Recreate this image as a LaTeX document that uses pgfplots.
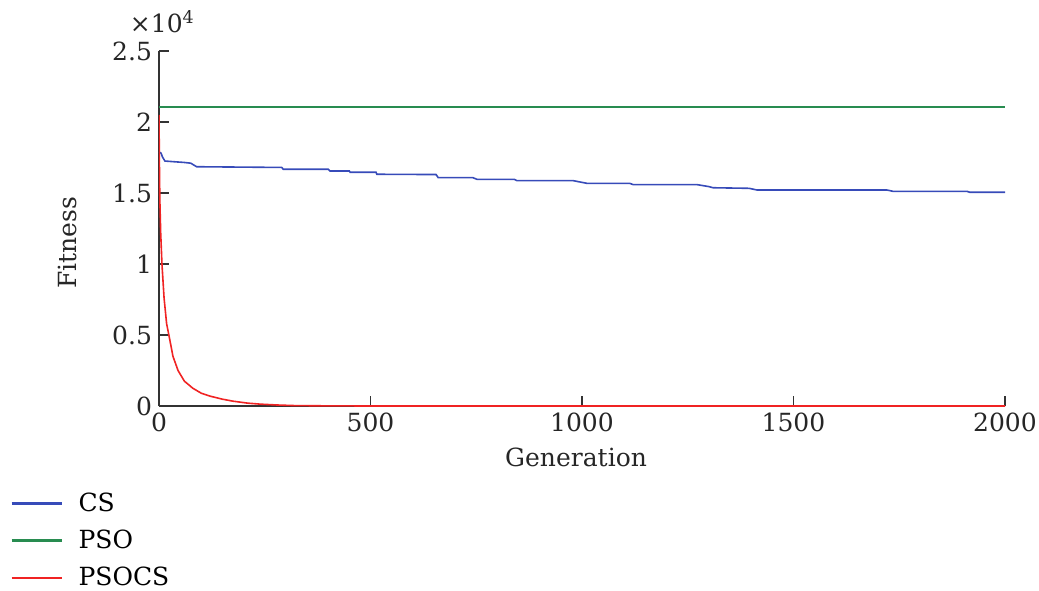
\documentclass[border=0pt]{standalone}
\usepackage{fontspec}
\setmainfont{DejaVu Serif}
\usepackage{pgfplots}
\pgfplotsset{compat=1.18}
\definecolor{csblue}{RGB}{55,75,185}
\definecolor{psogreen}{RGB}{40,140,80}
\definecolor{psored}{RGB}{240,35,35}
\begin{document}
\begin{tikzpicture}
\useasboundingbox (-79.5pt,-92pt) rectangle (440pt,203pt);
\begin{axis}[
  scale only axis,
  width=423pt, height=177.5pt,
  xmin=0, xmax=2000, ymin=0, ymax=25000,
  axis x line*=bottom, axis y line*=left,
  axis line style={line width=0.8pt, black!80},
  tick style={line width=0.7pt, black!80},
  major tick length=5pt,
  tick align=inside,
  xtick={0,500,1000,1500,2000},
  ytick={0,5000,10000,15000,20000,25000},
  /pgf/number format/1000 sep={},
  scaled y ticks=base 10:-4,
  ytick scale label code/.code={×10\textsuperscript{4}},
  every y tick scale label/.style={at={(yticklabel cs:1)},anchor=south west, xshift=12pt, yshift=9pt, inner sep=0pt},
  /pgf/number format/assume math mode=true,
  ticklabel style={font=\fontsize{12.5}{14}\selectfont, text=black!85},
  label style={font=\fontsize{12.5}{14}\selectfont, text=black!85},
  xlabel={Generation}, ylabel={Fitness},
  xlabel style={at={(axis description cs:0.493,-0.144)}, anchor=center},
  ylabel style={at={(axis description cs:-0.108,0.46)}, anchor=center},
  legend style={at={(axis description cs:-0.176,-0.232)}, anchor=north west, draw=none, fill=none,
    font=\fontsize{12.5}{14}\selectfont, row sep=3.75pt, inner sep=0pt},
  legend cell align=left,
  legend image code/.code={\draw[#1, line width=1.1pt] (0pt,0pt) -- (25pt,0pt); \path[draw=none,fill=none] (0pt,0pt) rectangle (31.5pt,0pt);},
]
\addplot[csblue, line width=0.8pt] coordinates {
(0,17900) (5,17800) (8,17550) (14,17250) (60,17150) (75,17100) (89,16850)
(290,16800) (294,16670) (400,16670) (404,16550) (450,16550) (452,16460)
(513,16460) (515,16320) (655,16300) (660,16080) (742,16080) (752,15960)
(840,15960) (846,15870) (979,15870) (1012,15680) (1113,15680) (1121,15590)
(1272,15590) (1300,15450) (1310,15370) (1395,15330) (1414,15210) (1721,15210)
(1735,15120) (1910,15120) (1917,15050) (2000,15050)};
\addlegendentry{CS}
\addplot[psogreen, line width=0.8pt] coordinates {(0,21050) (2000,21050)};
\addlegendentry{PSO}
\addplot[psored, line width=0.8pt] coordinates {
(0,20500) (1,17000) (2,14500) (4,12200) (7,10000) (12,7600) (18,5800) (24,4900)
(33,3500) (45,2500) (60,1750) (80,1250) (100,900) (120,700) (150,480)
(175,340) (210,200) (240,130) (280,70) (320,30) (400,10) (500,0) (2000,0)};
\addlegendentry{PSOCS}
\end{axis}
\end{tikzpicture}
\end{document}
